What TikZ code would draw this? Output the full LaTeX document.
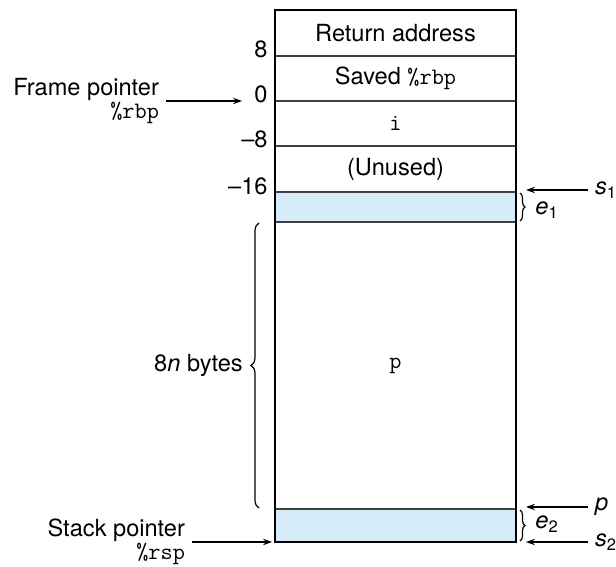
\documentclass[tikz,border=0pt]{standalone}
\usepackage{fontspec}
\setmainfont{TeX Gyre Heros}
\usepackage{xcolor}
\usetikzlibrary{arrows.meta, decorations.pathreplacing}
\definecolor{slotblue}{RGB}{214,236,248}
\tikzset{
	cell/.style={draw=black!75, line width=0.7pt, minimum width=120.5pt, inner sep=0pt, outer sep=0pt},
	offset/.style={anchor=base east, inner sep=0pt},
	ptr/.style={line width=0.6pt, -{Stealth[length=4.5pt, width=3.2pt]}},
	ptrname/.style={anchor=east, align=right, font=\fontsize{11.8}{10.6}\selectfont},
	ptrlabel/.style={anchor=west},
	elabel/.style={anchor=west, inner sep=0pt},
	brace/.style={decorate, decoration={brace, amplitude=2.5pt}, line width=0.6pt},
	bigbrace/.style={decorate, decoration={brace, amplitude=4pt}, line width=0.6pt}
}

\begin{document}
\begin{tikzpicture}[x=0.5pt, y=-0.5pt, font=\fontsize{11.8}{14}\selectfont]
	\useasboundingbox (0,0) rectangle (616,567);
	\node[cell, minimum height=23pt] (ret) at (395.5,33) {Return address};
	\node[cell, minimum height=22.5pt] (saved) at (395.5,78.5) {Saved \texttt{\%rbp}};
	\node[cell, minimum height=22.5pt] (ivar) at (395.5,123.5) {\texttt{i}};
	\node[cell, minimum height=23pt] (unused) at (395.5,169) {(Unused)};
	\node[cell, fill=slotblue, minimum height=15pt] (e1) at (395.5,207) {};
	\node[cell, minimum height=143.5pt] (parr) at (395.5,365.5) {\texttt{p}};
	\node[cell, fill=slotblue, minimum height=16.5pt] (e2) at (395.5,525.5) {};
	\draw[line width=1.4pt] (ret.north west) rectangle (e2.south east);
	\node[offset] (o8) at (268,58) {8};
	\node[offset] (o0) at (268,103) {0};
	\node[offset] (om8) at (268,148) {--8};
	\node[offset] (om16) at (268,194) {--16};
	\node[ptrname] (fp) at (166,101) {Frame pointer\\\texttt{\%rbp}};
	\coordinate (fpend) at (242,101);
	\draw[ptr] (fp) -- (fpend);
	\node[ptrname] (sp) at (192,542) {Stack pointer\\\texttt{\%rsp}};
	\draw[ptr, shorten >=1.5pt] (sp) -- (e2.south west);
	\node[ptrlabel] (s1) at (588,190) {\textit{s}\textsubscript{1}};
	\coordinate (s1end) at (526,190);
	\draw[ptr] (s1) -- (s1end);
	\node[ptrlabel] (pp) at (588,507) {\textit{p}};
	\coordinate (ppend) at (526,507);
	\draw[ptr] (pp) -- (ppend);
	\node[ptrlabel] (s2) at (588,542) {\textit{s}\textsubscript{2}};
	\coordinate (s2end) at (526,542);
	\draw[ptr] (s2) -- (s2end);
	\draw[brace] ([xshift=2pt, yshift=-0.5pt]e1.north east) -- ([xshift=2pt, yshift=0.5pt]e1.south east);
	\node[elabel] (e1l) at (535,210) {\textit{e}\textsubscript{1}};
	\draw[brace] ([xshift=2pt, yshift=-0.5pt]e2.north east) -- ([xshift=2pt, yshift=0.5pt]e2.south east);
	\node[elabel] (e2l) at (535,524) {\textit{e}\textsubscript{2}};
	\draw[bigbrace] ([xshift=-8pt, yshift=0.5pt]parr.south west) -- ([xshift=-8pt, yshift=-0.5pt]parr.north west) node[midway, left=4.5pt] (bytes) {8\textit{n} bytes};
\end{tikzpicture}
\end{document}
